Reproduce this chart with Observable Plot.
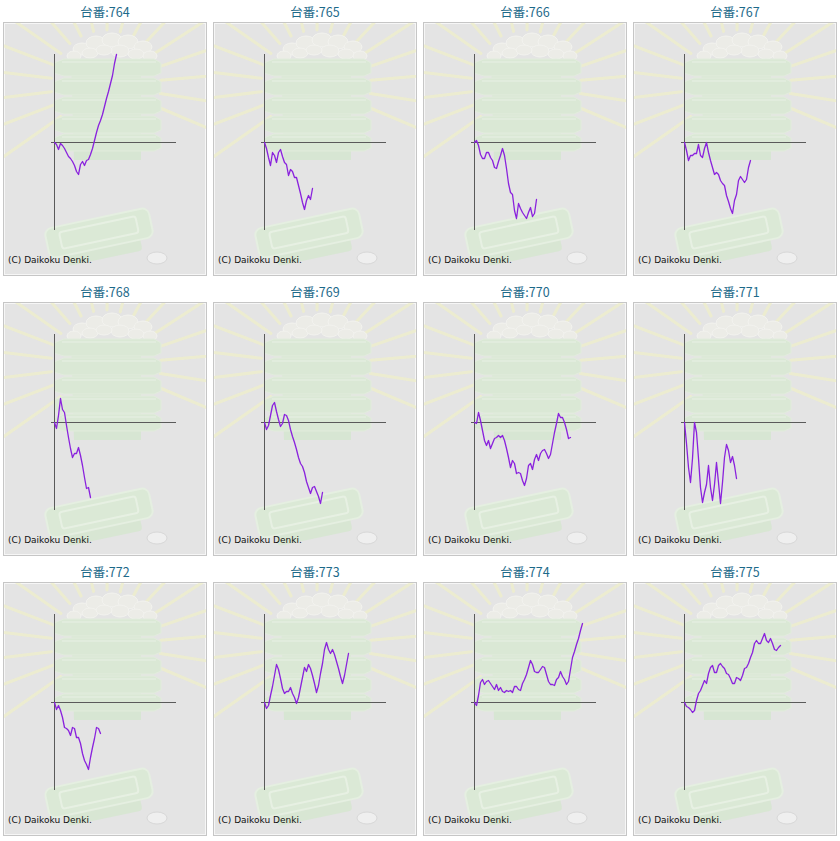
<!DOCTYPE html>
<html>
<head>
<meta charset="utf-8">
<script src="https://cdn.jsdelivr.net/npm/d3@7"></script>
<script src="https://cdn.jsdelivr.net/npm/@observablehq/plot@0.6"></script>
<style>
  html, body { margin: 0; padding: 0; background: #ffffff; }
  #grid { position: relative; width: 840px; height: 841px; }
  .cell { position: absolute; width: 210px; height: 280px; }
  .title { position: absolute; left: 0; top: 4px; width: 210px; text-align: center;
           font: 12.5px/15px "Noto Sans CJK JP", "Noto Sans", sans-serif; color: #1d6a8a; }
  .box { position: absolute; left: 3px; top: 22px; width: 204px; height: 254px; box-sizing: border-box;
         border: 1px solid #c6c6c6; background: #e4e4e4; overflow: hidden;
         box-shadow: inset 0 0 0 1px #f6f6f6; }
  .deco, .plotwrap { position: absolute; left: 0; top: 0; }
  .deco { opacity: 0.8; }
  .caption { position: absolute; left: 4px; top: 232px; font: 9px/11px "DejaVu Sans", sans-serif; color: #111; white-space: nowrap; }
</style>
</head>
<body>
<div id="grid"></div>
<script>
// Machine numbers (台番)
const machines = ["764", "765", "766", "767", "768", "769", "770", "771", "772", "773", "774", "775"];

const s764 = [0,-2,-7,-1,-3,-6,-10,-14,-16,-19,-23,-29,-32,-22,-19,-23,-18,-17,-12,-6,2,10,17,22,28,36,44,51,59,67,79,88];
const s765 = [0,-6,-15,-23,-10,-13,-20,-10,-7,-14,-20,-22,-33,-27,-29,-35,-35,-43,-51,-60,-67,-58,-53,-57,-46];
const s766 = [0,2,-3,-12,-16,-16,-10,-10,-15,-18,-25,-26,-19,-13,-6,-13,-26,-41,-50,-52,-68,-76,-61,-66,-70,-73,-76,-70,-65,-74,-71,-57];
const s767 = [0,-8,-18,-13,-13,-11,-11,-2,-13,-15,-6,0,-10,-18,-25,-32,-30,-32,-38,-41,-43,-53,-59,-66,-71,-58,-52,-38,-34,-37,-40,-37,-25,-18];
const s768 = [0,-6,7,24,13,10,-3,-15,-26,-35,-31,-31,-25,-33,-43,-55,-66,-65,-75];
const s769 = [0,-7,-3,7,17,20,11,3,-4,-1,8,7,2,-7,-14,-20,-27,-35,-41,-44,-50,-59,-65,-71,-65,-64,-69,-74,-81,-70];
const s770 = [0,-1,10,2,-8,-18,-23,-18,-26,-21,-16,-15,-13,-15,-13,-18,-26,-35,-45,-38,-41,-51,-50,-51,-58,-63,-56,-43,-41,-47,-37,-32,-38,-31,-28,-27,-31,-36,-32,-21,-10,-1,9,5,5,0,-7,-16,-15];
const s771 = [0,-21,-45,-60,-36,0,-10,-36,-65,-80,-70,-62,-43,-65,-78,-62,-40,-60,-81,-60,-35,-22,-28,-40,-34,-43,-56];
const s772 = [0,-7,-3,-8,-15,-25,-26,-28,-33,-25,-26,-35,-35,-41,-51,-58,-62,-67,-55,-45,-36,-25,-26,-31];
const s773 = [0,-6,-3,7,16,27,38,33,24,14,9,11,11,15,9,5,-1,5,15,25,35,31,38,34,27,19,10,17,29,39,53,60,53,49,53,48,41,34,26,19,27,38,49];
const s774 = [0,-3,7,20,23,18,21,22,19,16,13,18,12,15,11,10,12,11,12,10,16,16,13,12,19,23,28,35,42,38,31,30,30,33,36,35,28,21,18,18,17,23,25,31,26,23,18,21,33,45,51,58,64,72,79];
const s775 = [0,-4,-5,-7,-10,-8,2,9,12,17,22,19,29,35,37,30,30,37,39,36,34,29,28,24,19,19,25,24,22,27,34,35,39,45,50,59,62,59,59,64,69,62,60,64,59,53,52,55,57];

const seriesList = [s764, s765, s766, s767, s768, s769, s770, s771, s772, s773, s774, s775];

// Axis extents (data units)
const xMax = 61;
const yExtent = 88;
const caption = "(C) Daikoku Denki.";

// Decorative background (illustration behind the chart)
function decoration() {
  const cx = 102, cy = 62;
  let rays = "";
  for (let a = 145; a <= 395; a += 14) {
    const r = a * Math.PI / 180;
    rays += `<line x1="${(cx + Math.cos(r) * 55).toFixed(1)}" y1="${(cy + Math.sin(r) * 55).toFixed(1)}" x2="${(cx + Math.cos(r) * 150).toFixed(1)}" y2="${(cy + Math.sin(r) * 150).toFixed(1)}"/>`;
  }
  let layers = "";
  [36, 55, 74, 93, 111].forEach(y0 => {
    layers += `<polygon points="50,${y0+4} 60,${y0} 150,${y0} 157,${y0+4} 157,${y0+14} 150,${y0+17} 60,${y0+17} 50,${y0+14}" />`;
    layers += `<line x1="58" y1="${y0+3}" x2="152" y2="${y0+3}" stroke="#e4f1df" stroke-width="1.5"/>`;
  });
  let balls = "";
  [[78,26,9,6],[92,20,10,7],[108,17,10,7],[124,19,10,7],[139,24,9,6],[86,30,8,5],[116,28,9,6],[132,31,8,5],[100,27,8,5],[70,33,7,5],[146,33,7,5]].forEach(([x,y,rx,ry]) => {
    balls += `<ellipse cx="${x}" cy="${y}" rx="${rx}" ry="${ry}"/>`;
  });
  return `<svg width="202" height="252" xmlns="http://www.w3.org/2000/svg">
    <g stroke="#f2f2c8" stroke-width="3" stroke-linecap="round" opacity="0.85">${rays}</g>
    <g fill="#eeeee8" stroke="#f7f7f2" stroke-width="1">${balls}</g>
    <polygon points="67,36 137,36 137,137 70,137" fill="#d5e7cf"/>
    <g fill="#d8e9d2" stroke="#e2efdc" stroke-width="1">${layers}</g>
    <g transform="rotate(-12 95 210)">
      <rect x="58" y="216" width="76" height="20" rx="4" fill="#d6e7d0"/>
      <rect x="42" y="195" width="106" height="30" rx="7" fill="#d9ebd3" stroke="#e6f2e1" stroke-width="2"/>
      <rect x="56" y="201" width="78" height="17" rx="3" fill="none" stroke="#e8f4e3" stroke-width="2"/>
    </g>
    <ellipse cx="153" cy="235" rx="10" ry="6" fill="#f2f2f2" stroke="#d6d6d6" stroke-width="1"/>
  </svg>`;
}

const grid = document.getElementById("grid");
machines.forEach((m, k) => {
  const col = k % 4, row = Math.floor(k / 4);
  const cell = document.createElement("div");
  cell.className = "cell";
  cell.style.left = (210 * col) + "px";
  cell.style.top = (280 * row) + "px";

  const title = document.createElement("div");
  title.className = "title";
  title.textContent = "台番:" + m;
  cell.appendChild(title);

  const box = document.createElement("div");
  box.className = "box";

  const deco = document.createElement("div");
  deco.className = "deco";
  deco.innerHTML = decoration();
  box.appendChild(deco);

  const data = seriesList[k].map((v, i) => ({game: i, diff: v}));
  const chart = Plot.plot({
    width: 202,
    height: 252,
    marginLeft: 50,
    marginRight: 30,
    marginTop: 31,
    marginBottom: 45,
    x: {domain: [0, xMax], axis: null},
    y: {domain: [-yExtent, yExtent], axis: null},
    style: {background: "transparent", overflow: "visible"},
    marks: [
      Plot.ruleX([0], {y1: -yExtent, y2: yExtent, stroke: "#5a5a5a", strokeWidth: 1}),
      Plot.ruleY([0], {x1: -1.5, x2: xMax, stroke: "#5a5a5a", strokeWidth: 1}),
      Plot.line(data, {x: "game", y: "diff", stroke: "#8a22dd", strokeWidth: 1.3})
    ]
  });
  const wrap = document.createElement("div");
  wrap.className = "plotwrap";
  wrap.appendChild(chart);
  box.appendChild(wrap);

  const cap = document.createElement("div");
  cap.className = "caption";
  cap.textContent = caption;
  box.appendChild(cap);

  cell.appendChild(box);
  grid.appendChild(cell);
});
</script>
</body>
</html>
